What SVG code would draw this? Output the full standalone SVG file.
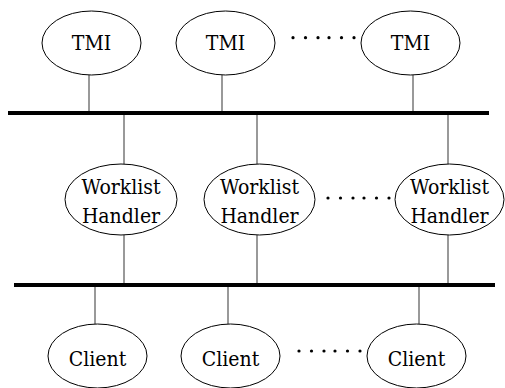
<svg xmlns="http://www.w3.org/2000/svg" width="505" height="388" viewBox="0 0 505 388">
<style>
.n ellipse{fill:#fff;stroke:#000;stroke-width:1}
.n text{font-family:'DejaVu Serif Condensed','DejaVu Serif',serif;font-size:21px;fill:#000;text-anchor:middle}
.c line{stroke:#555;stroke-width:1.2}
.c line.bus{stroke:#000;stroke-width:4}
.dots circle{fill:#000}
</style>
<rect width="505" height="388" fill="#fff"/>
<g id="connectors" class="c">
<line class="bus" x1="8" y1="113" x2="489" y2="113"/>
<line class="bus" x1="14" y1="285" x2="495" y2="285"/>
<line x1="89" y1="75" x2="89" y2="111"/>
<line x1="222" y1="75" x2="222" y2="111"/>
<line x1="413" y1="75" x2="413" y2="111"/>
<line x1="124" y1="115" x2="124" y2="164"/>
<line x1="257" y1="115" x2="257" y2="164"/>
<line x1="448" y1="115" x2="448" y2="164"/>
<line x1="124" y1="235" x2="124" y2="283"/>
<line x1="257" y1="235" x2="257" y2="283"/>
<line x1="448" y1="235" x2="448" y2="283"/>
<line x1="95" y1="287" x2="95" y2="324"/>
<line x1="228" y1="287" x2="228" y2="324"/>
<line x1="419" y1="287" x2="419" y2="324"/>
</g>
<g id="tmi1" class="n"><ellipse cx="91.5" cy="43" rx="49.5" ry="32"/><text x="91.5" y="50">TMI</text></g>
<g id="tmi2" class="n"><ellipse cx="225.5" cy="43" rx="49.5" ry="32"/><text x="225.5" y="50">TMI</text></g>
<g id="tmi3" class="n"><ellipse cx="410.5" cy="43" rx="49.5" ry="32"/><text x="410.5" y="50">TMI</text></g>
<g id="wh1" class="n"><ellipse cx="121" cy="199.5" rx="56" ry="35.5"/><text x="121" y="194">Worklist</text><text x="121" y="223">Handler</text></g>
<g id="wh2" class="n"><ellipse cx="259.5" cy="199.5" rx="55.5" ry="35.5"/><text x="259.5" y="194">Worklist</text><text x="259.5" y="223">Handler</text></g>
<g id="wh3" class="n"><ellipse cx="449.5" cy="199.5" rx="54.5" ry="35.5"/><text x="449.5" y="194">Worklist</text><text x="449.5" y="223">Handler</text></g>
<g id="client1" class="n"><ellipse cx="97.5" cy="356" rx="49.5" ry="32"/><text x="97.5" y="366">Client</text></g>
<g id="client2" class="n"><ellipse cx="230.5" cy="356" rx="49.5" ry="32"/><text x="230.5" y="366">Client</text></g>
<g id="client3" class="n"><ellipse cx="416.5" cy="356" rx="49.5" ry="32"/><text x="416.5" y="366">Client</text></g>
<g id="dots" class="dots">
<circle cx="293" cy="37.7" r="1.6"/><circle cx="305.5" cy="37.7" r="1.6"/><circle cx="318" cy="37.7" r="1.6"/><circle cx="329" cy="37.7" r="1.6"/><circle cx="341.5" cy="37.7" r="1.6"/><circle cx="354" cy="37.7" r="1.6"/>
<circle cx="328" cy="198" r="1.6"/><circle cx="340.5" cy="198" r="1.6"/><circle cx="353" cy="198" r="1.6"/><circle cx="364" cy="198" r="1.6"/><circle cx="376.5" cy="198" r="1.6"/><circle cx="389" cy="198" r="1.6"/>
<circle cx="299" cy="351" r="1.6"/><circle cx="311.5" cy="351" r="1.6"/><circle cx="324" cy="351" r="1.6"/><circle cx="335" cy="351" r="1.6"/><circle cx="347.5" cy="351" r="1.6"/><circle cx="360" cy="351" r="1.6"/>
</g>
</svg>
